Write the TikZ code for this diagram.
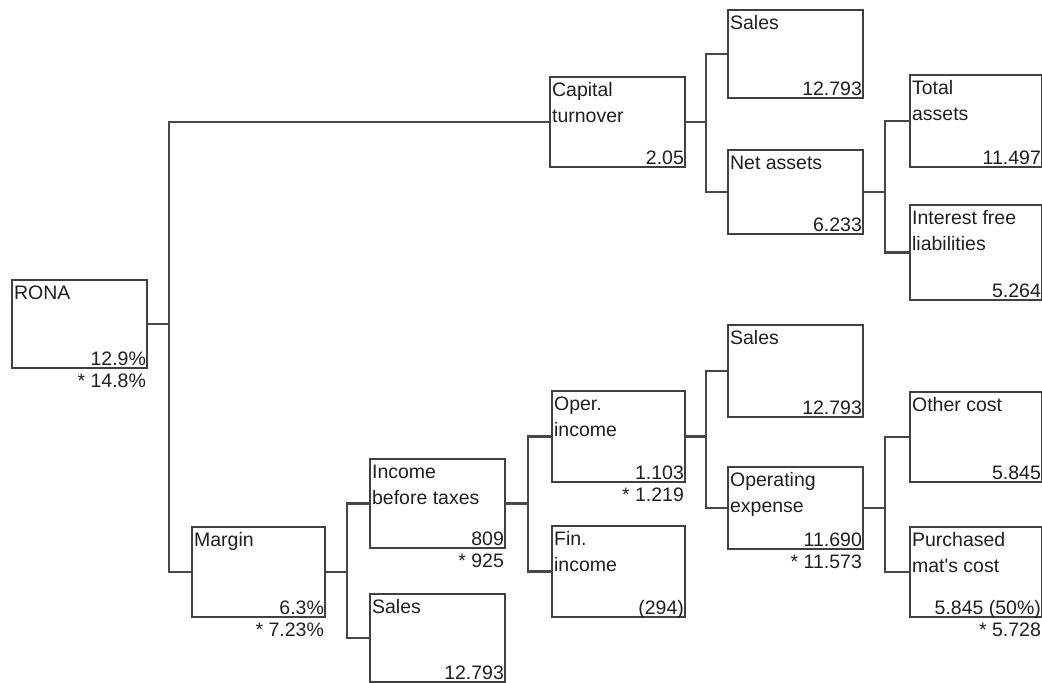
\documentclass[tikz,border=0pt]{standalone}
\usepackage{fontspec}
\setmainfont{Liberation Sans}
\usetikzlibrary{calc}
\tikzset{
  boxnode/.style={draw=black!75, line width=2.2pt, fill=white, inner sep=0pt},
  conn/.style={draw=black!72, line width=2.4pt},
  ttl/.style={anchor=north west, inner sep=0pt, align=left, text=black!88,
     font=\fontsize{19.5}{26}\selectfont},
  val/.style={anchor=base east, inner sep=0pt, text=black!88,
     font=\fontsize{19.5}{26}\selectfont},
}
% \mybox{name}{x1}{y1}{x2}{y2}{title}{value}
\newcommand{\mybox}[7]{%
  \node[boxnode, minimum width={#4-#2}, minimum height={#5-#3}] (#1) at ({(#2+#4)/2},{(#3+#5)/2}) {};
  \node[ttl] (#1-t) at ([shift={(3,6.5)}]#1.north west) {#6};
  \node[val] (#1-v) at ([shift={(-2,-3.5)}]#1.south east) {#7};
}
\newcommand{\mystar}[2]{%
  \node[val] (#1-s) at ([shift={(-2,18)}]#1.south east) {#2};
}
\begin{document}
\begin{tikzpicture}[x=1pt,y=-1pt]
\useasboundingbox (0,0) rectangle (1042,683);
\coordinate (j1) at (169,0);
\coordinate (j2) at (706,0);
\coordinate (j3) at (885,0);
\coordinate (j4) at (347,0);
\coordinate (j5) at (528,0);
\coordinate (j6) at (706,0);
\coordinate (j7) at (885,0);

\mybox{rona}{12}{280}{147}{368}{RONA}{12.9\%}
\mystar{rona}{* 14.8\%}
\mybox{cap}{550}{77}{685}{167}{Capital\\turnover}{2.05}
\mybox{salesa}{728}{10}{863}{98}{Sales}{12.793}
\mybox{net}{728}{150}{863}{234}{Net assets}{6.233}
\mybox{total}{910}{75}{1042}{167}{Total\\assets}{11.497}
\mybox{ifl}{910}{205}{1042}{300}{Interest free\\liabilities}{5.264}
\mybox{margin}{192}{527}{325}{617}{Margin}{6.3\%}
\mystar{margin}{* 7.23\%}
\mybox{ibt}{370}{459}{505}{548}{Income\\before taxes}{809}
\mystar{ibt}{* 925}
\mybox{salesc}{370}{594}{505}{682}{Sales}{12.793}
\mybox{oper}{552}{391}{685}{482}{Oper.\\income}{1.103}
\mystar{oper}{* 1.219}
\mybox{fin}{552}{526}{685}{617}{Fin.\\income}{(294)}
\mybox{salesb}{728}{325}{863}{417}{Sales}{12.793}
\mybox{opex}{728}{467}{863}{549}{Operating\\expense}{11.690}
\mystar{opex}{* 11.573}
\mybox{other}{910}{392}{1042}{482}{Other cost}{5.845}
\mybox{purch}{910}{527}{1042}{617}{Purchased\\mat\textquotesingle s cost}{5.845 (50\%)}
\mystar{purch}{* 5.728}

\draw[conn] (rona.east) -- (rona.east -| j1);
\draw[conn] (cap.west) -| (rona.east -| j1) |- (margin.west);

\draw[conn] (cap.east) -- (cap.east -| j2);
\draw[conn] (salesa.west) -| (cap.east -| j2) |- (net.west);

\draw[conn] (net.east) -- (net.east -| j3);
\draw[conn] (total.west) -| (net.east -| j3) |- (ifl.west);

\draw[conn] (margin.east) -- (margin.east -| j4);
\draw[conn] (ibt.west) -| (margin.east -| j4) |- (salesc.west);

\draw[conn] (ibt.east) -- (ibt.east -| j5);
\draw[conn] (oper.west) -| (ibt.east -| j5) |- (fin.west);

\draw[conn] (oper.east) -- (oper.east -| j6);
\draw[conn] (salesb.west) -| (oper.east -| j6) |- (opex.west);

\draw[conn] (opex.east) -- (opex.east -| j7);
\draw[conn] (other.west) -| (opex.east -| j7) |- (purch.west);
\end{tikzpicture}
\end{document}
